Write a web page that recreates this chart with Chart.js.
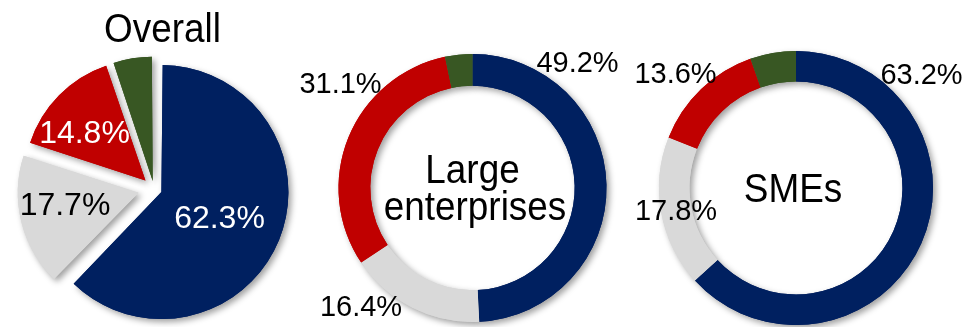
<!DOCTYPE html>
<html><head><meta charset="utf-8">
<script src="https://cdn.jsdelivr.net/npm/chart.js@4.4.1/dist/chart.umd.min.js"></script>
<style>
html,body{margin:0;padding:0;width:978px;height:327px;overflow:hidden;background:#fff;}
canvas{position:absolute;top:0;}
</style></head><body>
<canvas id="c0" width="320" height="327" style="left:0px"></canvas>
<canvas id="c1" width="340" height="327" style="left:290px"></canvas>
<canvas id="c2" width="348" height="327" style="left:630px"></canvas>
<script>
// ---- data ----
const chartTitles = ['Overall', 'Large enterprises', 'SMEs'];
const segments = ['Segment 1', 'Segment 2', 'Segment 3', 'Segment 4'];
const overallValues = [62.3, 17.7, 14.8, 5.2];
const largeValues = [49.2, 16.4, 31.1, 3.3];
const smeValues = [63.2, 17.8, 13.6, 5.4];
const segmentColors = ['#002060', '#D9D9D9', '#C00000', '#385723'];

const FONT = '"Liberation Sans", Arial, sans-serif';
const fmt = v => v.toFixed(1) + '%';

function shadowPlugin() {
  return {
    id: 'shadowLayer',
    beforeDatasetDraw(chart) {
      const ctx = chart.ctx;
      ctx.save();
      ctx.shadowColor = 'rgba(0,0,0,0.38)';
      ctx.shadowBlur = 6;
      ctx.shadowOffsetX = 3;
      ctx.shadowOffsetY = 3;
      chart.getDatasetMeta(0).data.forEach(a => a.draw(ctx));
      ctx.restore();
    }
  };
}

function labelPlugin(items) {
  return {
    id: 'textLabels',
    afterDraw(chart) {
      const ctx = chart.ctx;
      const arc = chart.getDatasetMeta(0).data[0];
      const cx = arc.x, cy = arc.y;
      items.forEach(it => {
        ctx.save();
        ctx.font = it.size + 'px ' + FONT;
        ctx.fillStyle = it.color || '#000';
        ctx.textAlign = 'center';
        ctx.textBaseline = 'alphabetic';
        ctx.translate(cx + it.dx, cy + it.dy);
        ctx.scale(it.sx || 1, 1);
        ctx.fillText(it.text, 0, 0);
        ctx.restore();
      });
    }
  };
}

function makeChart(id, values, ds, padding, items) {
  return new Chart(document.getElementById(id), {
    type: ds.type,
    data: {
      labels: segments,
      datasets: [Object.assign({
        data: values,
        backgroundColor: segmentColors,
        borderWidth: 0
      }, ds.extra)]
    },
    options: {
      responsive: false,
      animation: false,
      events: [],
      layout: { padding: padding },
      plugins: { legend: { display: false }, tooltip: { enabled: false } }
    },
    plugins: [shadowPlugin(), labelPlugin(items)]
  });
}

// Overall (exploded pie)
makeChart('c0', overallValues,
  { type: 'pie', extra: { radius: 119, offset: [32, 64, 48, 32] } },
  { left: 0, right: 12, top: 51, bottom: 0 },
  [
    { text: chartTitles[0], dx: 8.5, dy: -147, size: 41, sx: 0.9, color: '#000' },
    { text: fmt(overallValues[0]), dx: 65.5, dy: 38.5, size: 32, color: '#fff' },
    { text: fmt(overallValues[1]), dx: -89, dy: 26, size: 32, color: '#000' },
    { text: fmt(overallValues[2]), dx: -69.5, dy: -46.5, size: 32, color: '#fff' }
  ]);

// Large enterprises (doughnut)
makeChart('c1', largeValues,
  { type: 'doughnut', extra: { radius: 134, cutout: 106 } },
  { left: 25, right: 0, top: 49, bottom: 0 },
  [
    { text: 'Large', dx: 0, dy: -5, size: 41, sx: 0.9 },
    { text: 'enterprises', dx: 2.5, dy: 32, size: 41, sx: 0.9 },
    { text: fmt(largeValues[0]), dx: 105, dy: -115.6, size: 29 },
    { text: fmt(largeValues[1]), dx: -111.5, dy: 128.4, size: 29 },
    { text: fmt(largeValues[2]), dx: -132, dy: -95.1, size: 29 }
  ]);

// SMEs (doughnut)
makeChart('c2', smeValues,
  { type: 'doughnut', extra: { radius: 137, cutout: 108 } },
  { left: 0, right: 16, top: 49, bottom: 0 },
  [
    { text: chartTitles[2], dx: -3, dy: 13.5, size: 41, sx: 0.9 },
    { text: fmt(smeValues[0]), dx: 125.5, dy: -103.6, size: 29 },
    { text: fmt(smeValues[1]), dx: -120, dy: 32.4, size: 29 },
    { text: fmt(smeValues[2]), dx: -120.5, dy: -105.1, size: 29 }
  ]);
</script>
</body></html>
